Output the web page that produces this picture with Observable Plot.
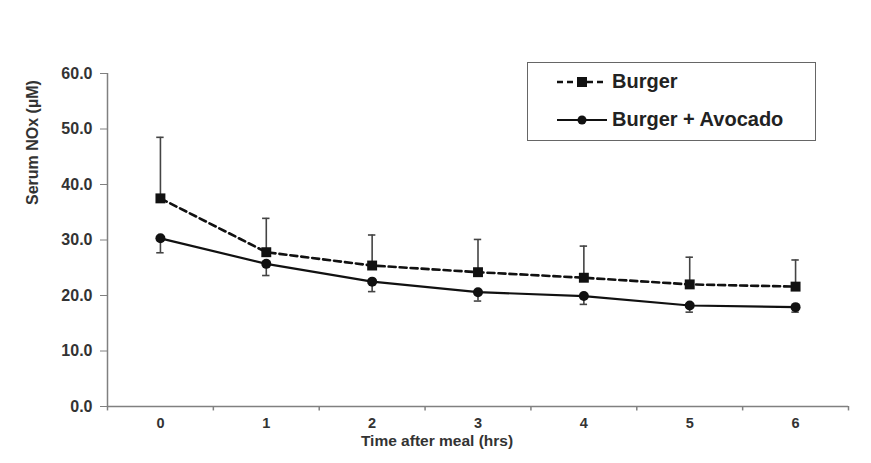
<!DOCTYPE html>
<html>
<head>
<meta charset="utf-8">
<script src="https://cdn.jsdelivr.net/npm/d3@7"></script>
<script src="https://cdn.jsdelivr.net/npm/@observablehq/plot@0.6"></script>
<style>
  body { margin: 0; background: #fff; }
  #wrap { position: relative; width: 871px; height: 463px; font-family: "Liberation Sans", Arial, sans-serif; }
  #legend { position: absolute; left: 527px; top: 62px; width: 289px; height: 79px; border: 1.5px solid #666; box-sizing: border-box; background: #fff; }
  .row { position: absolute; left: 29px; display: flex; align-items: center; font-weight: bold; font-size: 20px; color: #222; }
  .row svg { margin-right: 5px; }
</style>
</head>
<body>
<div id="wrap"></div>
<script>
const times = [0, 1, 2, 3, 4, 5, 6];
const tickLabels = ["0", "1", "2", "3", "4", "5", "6"];
const burger = [37.5, 27.8, 25.4, 24.2, 23.2, 22.0, 21.6];
const burgerSD = [11.0, 6.1, 5.5, 5.9, 5.7, 4.9, 4.8];
const avocado = [30.3, 25.7, 22.5, 20.6, 19.9, 18.2, 17.9];
const avocadoSD = [2.6, 2.1, 1.8, 1.6, 1.5, 1.2, 0.9];
const yTicks = [0, 10, 20, 30, 40, 50, 60];
const seriesNames = ["Burger", "Burger + Avocado"];

const B = times.map((t, i) => ({t, v: burger[i], lo: burger[i], hi: burger[i] + burgerSD[i]}));
const A = times.map((t, i) => ({t, v: avocado[i], lo: avocado[i] - avocadoSD[i], hi: avocado[i]}));
const bounds = times.map(t => t - 0.5).concat([times[times.length - 1] + 0.5]);
const capHalf = 0.035;
const ink = "#111";
const errInk = "#444";
const axisInk = "#808080";

const chart = Plot.plot({
  width: 871,
  height: 463,
  marginLeft: 107,
  marginRight: 23,
  marginTop: 73,
  marginBottom: 57,
  style: {fontFamily: "Liberation Sans, Arial, sans-serif", fontWeight: "bold", fontSize: "16px", color: "#333", background: "transparent"},
  x: {domain: [-0.5, 6.5]},
  y: {domain: [0, 60]},
  marks: [
    Plot.axisY({ticks: yTicks, tickFormat: d => d.toFixed(1), tickSize: 7, tickPadding: 8, label: null, stroke: axisInk}),
    Plot.axisX({ticks: times, tickFormat: (d, i) => tickLabels[i], tickSize: 0, tickPadding: 11, fontSize: 14.5, label: null}),
    Plot.ruleX(bounds, {y1: 0, y2: -0.8, stroke: axisInk, strokeWidth: 1.5}),
    Plot.ruleX([-0.5], {y1: 0, y2: 60, stroke: axisInk, strokeWidth: 1.5}),
    Plot.ruleY([0], {stroke: axisInk, strokeWidth: 1.5}),
    Plot.text(["Serum NOx (µM)"], {frameAnchor: "left", rotate: -90, dx: -75, dy: -35, fontSize: 16, fontWeight: "bold", fill: "#333"}),
    Plot.text(["Time after meal (hrs)"], {frameAnchor: "bottom", dx: -41, dy: 39, fontSize: 15.5, fontWeight: "bold", fill: "#333"}),
    // error bars
    Plot.ruleX(B, {x: "t", y1: "lo", y2: "hi", stroke: errInk, strokeWidth: 1.6}),
    Plot.ruleY(B, {y: "hi", x1: d => d.t - capHalf, x2: d => d.t + capHalf, stroke: errInk, strokeWidth: 1.6}),
    Plot.ruleX(A, {x: "t", y1: "lo", y2: "hi", stroke: errInk, strokeWidth: 1.6}),
    Plot.ruleY(A, {y: "lo", x1: d => d.t - capHalf, x2: d => d.t + capHalf, stroke: errInk, strokeWidth: 1.6}),
    // lines
    Plot.line(B, {x: "t", y: "v", stroke: ink, strokeWidth: 2.6, strokeDasharray: "7,4", curve: "linear"}),
    Plot.line(A, {x: "t", y: "v", stroke: ink, strokeWidth: 2.2, curve: "linear"}),
    Plot.dot(B, {x: "t", y: "v", symbol: "square", r: 5.6, fill: ink, stroke: "none"}),
    Plot.dot(A, {x: "t", y: "v", symbol: "circle", r: 5, fill: ink, stroke: "none"})
  ]
});

const wrap = document.getElementById("wrap");
wrap.appendChild(chart);

const legend = document.createElement("div");
legend.id = "legend";
legend.innerHTML = `
  <div class="row" style="top:7px">
    <svg width="50" height="14"><line x1="0" y1="7" x2="50" y2="7" stroke="${ink}" stroke-width="2.4" stroke-dasharray="6,4"/><rect x="20" y="2" width="10" height="10" fill="${ink}"/></svg>${seriesNames[0]}</div>
  <div class="row" style="top:45px">
    <svg width="50" height="14"><line x1="0" y1="7" x2="50" y2="7" stroke="${ink}" stroke-width="2.2"/><circle cx="25" cy="7" r="4.5" fill="${ink}"/></svg>${seriesNames[1]}</div>`;
wrap.appendChild(legend);
</script>
</body>
</html>
